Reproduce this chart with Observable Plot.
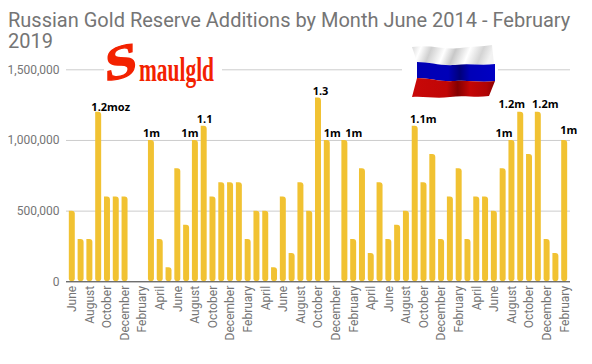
<!DOCTYPE html>
<html><head><meta charset="utf-8">
<script src="https://cdn.jsdelivr.net/npm/d3@7"></script>
<script src="https://cdn.jsdelivr.net/npm/@observablehq/plot@0.6"></script>
<style>
html,body{margin:0;padding:0;background:#fff;width:592px;height:364px;overflow:hidden}
#wrap{position:relative;width:592px;height:364px}
#title{position:absolute;left:8px;top:10px;width:572px;font:20px/20.5px Roboto,sans-serif;color:#757575}
#chart{position:absolute;left:0;top:58px}
#overlay{position:absolute;left:0;top:0;pointer-events:none}
</style></head><body>
<div id="wrap">
<div id="title">Russian Gold Reserve Additions by Month June 2014 - February 2019</div>
<div id="chart"></div>
<svg id="overlay" width="592" height="364" xmlns="http://www.w3.org/2000/svg">
  <defs>
    <linearGradient id="wg" x1="0" x2="1" y1="0" y2="0.1">
      <stop offset="0" stop-color="#d8d8d8"/><stop offset=".12" stop-color="#fff"/><stop offset=".25" stop-color="#cfcfcf"/>
      <stop offset=".42" stop-color="#fff"/><stop offset=".55" stop-color="#c8c8c8"/><stop offset=".72" stop-color="#fff"/>
      <stop offset=".88" stop-color="#d4d4d4"/><stop offset="1" stop-color="#f2f2f2"/>
    </linearGradient>
    <linearGradient id="bg" x1="0" x2="1" y1="0" y2="0">
      <stop offset="0" stop-color="#0000b4"/><stop offset=".4" stop-color="#0000b8"/><stop offset=".55" stop-color="#00007a"/>
      <stop offset=".68" stop-color="#0000b8"/><stop offset="1" stop-color="#0000c4"/>
    </linearGradient>
    <linearGradient id="rg" x1="0" x2="1" y1="0" y2="0">
      <stop offset="0" stop-color="#c80808"/><stop offset=".42" stop-color="#c00606"/><stop offset=".55" stop-color="#840000"/>
      <stop offset=".7" stop-color="#c40606"/><stop offset=".9" stop-color="#b00404"/><stop offset="1" stop-color="#8a0000"/>
    </linearGradient>
  </defs>
  <rect x="104" y="64" width="118" height="10" fill="#fff"/>
  <rect x="402" y="64" width="96" height="10" fill="#fff"/>
  <text transform="translate(105,82) skewY(-14) scale(1.3,1.1)" font-family="Liberation Serif" font-weight="700" font-size="44" fill="#f32200" stroke="#f32200" stroke-width="1.2">S</text>
  <text transform="translate(139,81) scale(0.62,1.28)" font-family="Liberation Serif" font-weight="700" font-size="27" fill="#f32200" textLength="121" lengthAdjust="spacingAndGlyphs">maulgld</text>
  <path d="M412 47 C430 44 445 50 460 48 C472 46 482 47 492 45 L494 64 C480 66 470 63 455 65 C440 66 430 62 417 62 Z" fill="url(#wg)"/>
  <path d="M417 62 C430 62 440 66 455 65 C470 63 480 66 495 64 L495 81 C480 83 470 80 455 81 C440 82 430 78 417 78 Z" fill="url(#bg)"/>
  <path d="M417 78 C430 78 440 82 455 81 C470 80 480 83 495 81 L489 96 C475 98 465 95 450 97 C435 99 425 96 412 97 Z" fill="url(#rg)"/>
</svg>
</div>
<script>
const names = ["June","July","August","September","October","November","December","January","February","March","April","May"];
const values = [
 500000,300000,300000,1200000,600000,600000,600000,
 0,0,1000000,300000,100000,800000,400000,1000000,1100000,600000,700000,700000,
 700000,300000,500000,500000,100000,600000,200000,700000,500000,1300000,1000000,0,
 1000000,300000,800000,200000,700000,300000,400000,500000,1100000,700000,900000,300000,
 600000,800000,300000,600000,600000,500000,800000,1000000,1200000,900000,1200000,300000,
 200000,1000000
];
const yTicks = [0,500000,1000000,1500000];
const noteIndex = [3,9,14,15,28,29,31,39,50,51,53,56];
const noteText = ["1.2moz","1m","1m","1.1","1.3","1m","1m","1.1m","1m","1.2m","1.2m","1m"];

// layout only: nudges of the hand-placed annotations
const noteDx = [12,0,-5.5,0.5,2,5,9,8,-8,-9,7,4];
const noteDy = [-1,-3,-3,-3,-3,-3,-3,-3,-3,-4,-4,-6];

const data = values.map((v,i)=>({i, month:names[i%12], v}));
const domain = data.map(d=>d.i);
const chart = Plot.plot({
  width:592, height:306, marginLeft:66, marginRight:22, marginTop:11.3, marginBottom:82.7,
  style:{fontFamily:"Roboto, sans-serif", fontSize:"12px", background:"transparent", color:"#757575", overflow:"visible"},
  x:{type:"band", domain, padding:0.32, align:0.5, label:null, tickSize:0, tickRotate:-90, tickPadding:4,
     ticks:domain.filter(i=>i%2===0), tickFormat:i=>names[i%12]},
  y:{domain:[0,1500000], ticks:yTicks, tickFormat:d3.format(","), label:null, tickSize:0, tickPadding:7},
  marks:[
    Plot.ruleY(yTicks.slice(1),{stroke:"#cccccc",strokeWidth:1}),
    Plot.barY(data,{x:"i",y:"v",fill:"#f1c232",ry2:3,rx2:3}),
    Plot.ruleY([0],{stroke:"#333333",strokeWidth:1}),
    ...noteIndex.map((ix,k)=>Plot.text([{i:ix,v:values[ix],t:noteText[k]}],{
      x:"i",y:"v",text:"t",dx:noteDx[k],dy:noteDy[k],textAnchor:"middle",lineAnchor:"bottom",
      fill:"#000",fontWeight:700,fontSize:11,fontFamily:"Open Sans, sans-serif",stroke:"none"
    }))
  ]
});
document.getElementById("chart").append(chart);
</script>
</body></html>
